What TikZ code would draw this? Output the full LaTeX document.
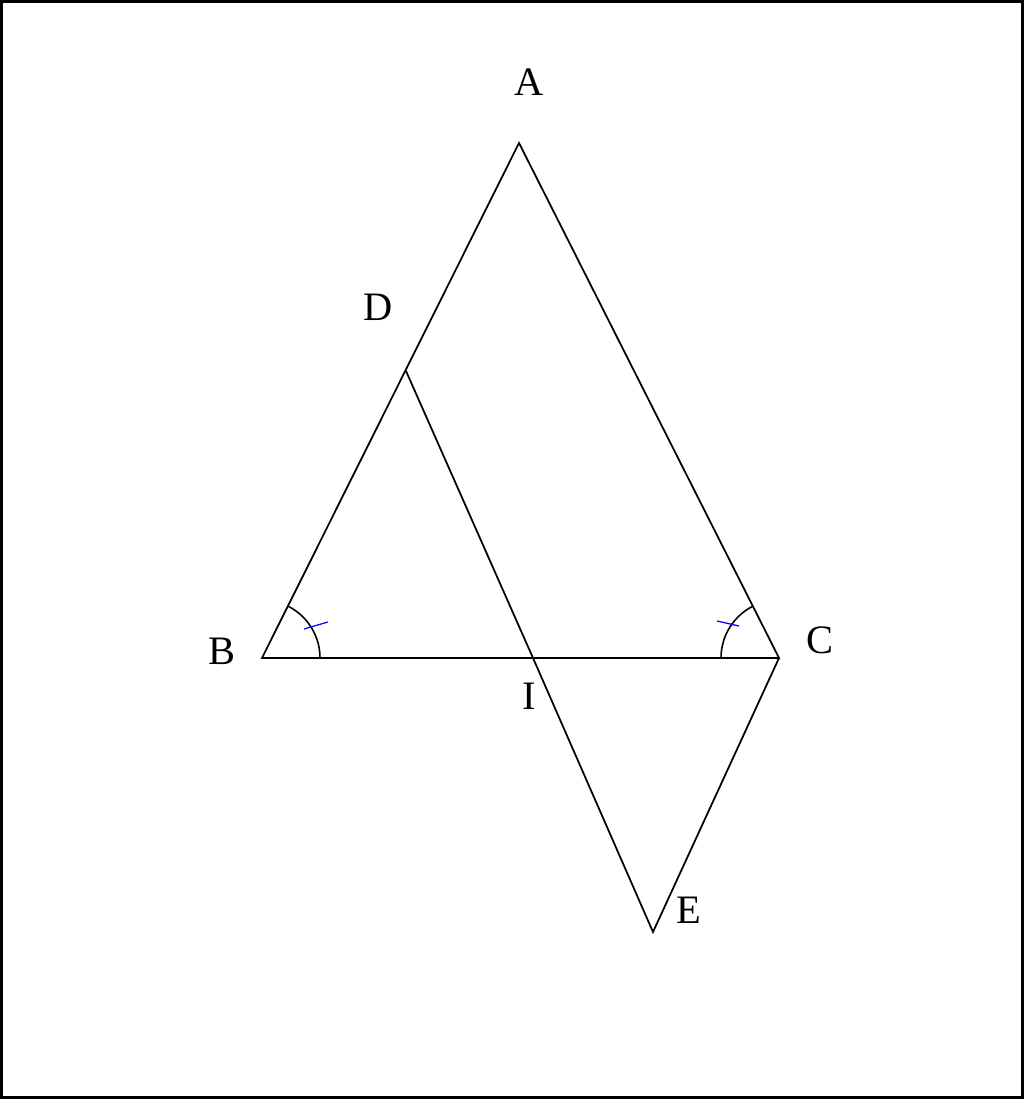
\documentclass[tikz,border=0pt]{standalone}
\usepackage{fontspec}
\setmainfont{Liberation Serif}
\usetikzlibrary{calc}
\tikzset{
x=0.02cm, y=0.02cm, % one unit is one pixel of the sketch
every node/.style={font=\fontsize{23}{27}\selectfont}, % letters of the points
side/.style={line width=1pt}, % sides of the triangles
anglearc/.style={line width=0.9pt}, % arcs of the equal angles
anglebar/.style={blue, line width=0.7pt}, % blue bar on each arc
}

\begin{document}
\begin{tikzpicture}
    \useasboundingbox (0,0) rectangle (1024,1099);
    \draw[line width=1.3pt] (1.5,1.5) rectangle (1022.5,1097.5);
    \coordinate (A) at (519,956);
    \coordinate (B) at (262,441);
    \coordinate (C) at (779,441);
    \coordinate (D) at (406,728);
    \coordinate (I) at (533,441);
    \coordinate (E) at (653,167);
    \node (lA) at (529,1017) {A};
    \node (lD) at (378,792) {D};
    \node (lB) at (222,448) {B};
    \node (lC) at (820,459) {C};
    \node (lI) at (529,403) {I};
    \node (lE) at (689,189) {E};
    \draw[side] (A) -- (B) -- (C) -- cycle;
    \draw[side] (D) -- (I) -- (E) -- (C);
    % equal angles at B and C
    \draw[anglearc] ($(B)+(58,0)$) arc[start angle=0, end angle=63.5, radius=58];
    \draw[anglearc] ($(C)+(-58,0)$) arc[start angle=180, end angle=116.8, radius=58];
    \draw[anglebar] ($(B)+(42,29)$) -- ($(B)+(66,36)$);
    \draw[anglebar] ($(C)+(-62,37)$) -- ($(C)+(-40,32)$);
\end{tikzpicture}
\end{document}
